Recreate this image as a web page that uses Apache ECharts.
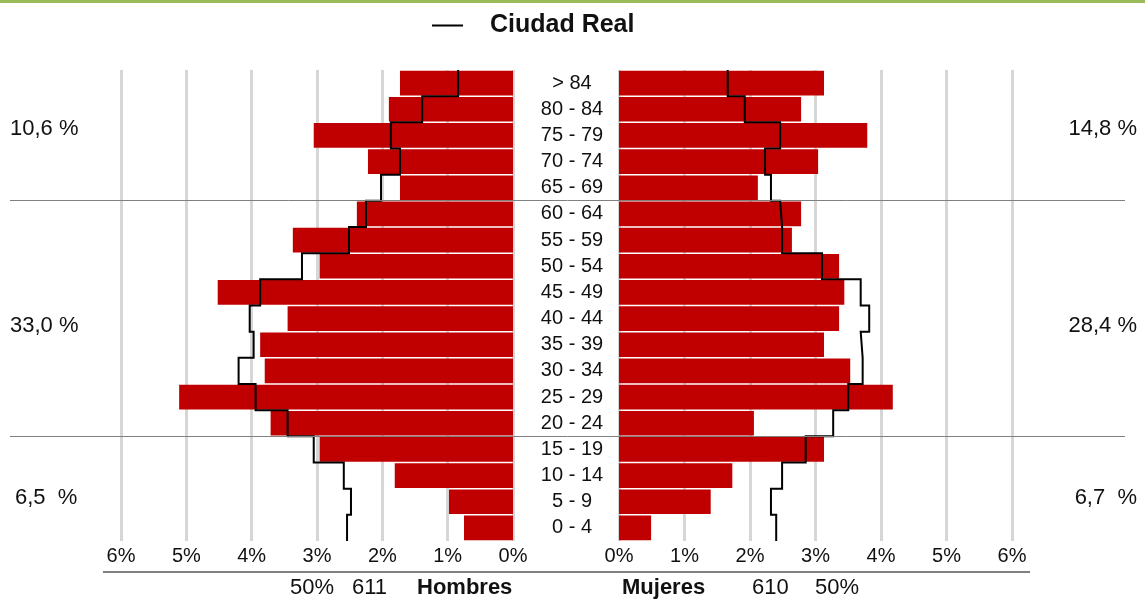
<!DOCTYPE html>
<html>
<head>
<meta charset="utf-8">
<script src="https://cdn.jsdelivr.net/npm/echarts@6/dist/echarts.min.js"></script>
<style>
html,body{margin:0;padding:0;background:#fff;}
#chart{width:1145px;height:599px;}
</style>
</head>
<body>
<div id="chart"></div>
<script>
// Age groups, bottom to top
const ages = ['0 - 4','5 - 9','10 - 14','15 - 19','20 - 24','25 - 29','30 - 34','35 - 39','40 - 44','45 - 49','50 - 54','55 - 59','60 - 64','65 - 69','70 - 74','75 - 79','80 - 84','> 84'];
// Percent of total population
const men      = [0.75,0.98,1.81,2.96,3.71,5.11,3.80,3.87,3.45,4.52,2.96,3.37,2.39,1.73,2.22,3.05,1.90,1.73];
const women    = [0.49,1.40,1.73,3.13,2.06,4.18,3.53,3.13,3.36,3.44,3.36,2.64,2.78,2.12,3.04,3.79,2.78,3.13];
// Reference profile: Ciudad Real
const menRef   = [2.54,2.48,2.59,3.05,3.45,3.94,4.20,3.97,4.03,3.87,3.23,2.51,2.25,2.02,1.73,1.87,1.39,0.84];
const womenRef = [2.40,2.32,2.49,2.85,3.27,3.50,3.72,3.69,3.82,3.69,3.10,2.49,2.46,2.32,2.23,2.46,1.92,1.66];
// Group summaries (top, middle, bottom)
const groupMen   = ['10,6 %','33,0 %','6,5  %'];
const groupWomen = ['14,8 %','28,4 %','6,7  %'];
const groupBounds = [4, 13]; // boundaries between groups (category index)
const totals = {menPct:'50%', men:'611', women:'610', womenPct:'50%'};

const FONT = "'Liberation Sans', Arial, sans-serif";
const RED = '#c00000';

function stepPoints(vals){
  const pts = [];
  vals.forEach((v,i)=>{ pts.push([v,i]); pts.push([v,i+1]); });
  return pts;
}

const chart = echarts.init(document.getElementById('chart'), null, {renderer:'canvas'});

const gridTop = 70, gridBottom = 599-541;
const splitLine = {show:true, lineStyle:{color:'#d6d6d6', width:3, type:'solid'}};
const xLabel = {show:true, color:'#111', fontSize:20, fontFamily:FONT, margin:5, formatter:(v)=>v+'%'};

const option = {
  animation:false,
  backgroundColor:'#fff',
  legend:{
    data:[{name:'Ciudad Real', icon:'rect'}],
    left:427, top:8,
    itemWidth:31, itemHeight:2,
    selectedMode:false,
    textStyle:{fontSize:25, fontWeight:'bold', color:'#111', fontFamily:FONT, padding:[0,0,0,22]}
  },
  grid:[
    {left:121, right:1145-513, top:gridTop, bottom:gridBottom},
    {left:619, right:1145-1012, top:gridTop, bottom:gridBottom}
  ],
  xAxis:[
    {gridIndex:0, type:'value', min:0, max:6, interval:1, inverse:true,
     axisLine:{show:false}, axisTick:{show:false}, axisLabel:xLabel, splitLine:splitLine},
    {gridIndex:1, type:'value', min:0, max:6, interval:1,
     axisLine:{show:false}, axisTick:{show:false}, axisLabel:xLabel, splitLine:splitLine}
  ],
  yAxis:[
    {gridIndex:0, type:'category', data:ages, axisLine:{show:false}, axisTick:{show:false}, axisLabel:{show:false}},
    {gridIndex:1, type:'category', data:ages, position:'left', axisLine:{show:false}, axisTick:{show:false},
     axisLabel:{show:true, align:'center', margin:47, fontSize:20, color:'#111', fontFamily:FONT}},
    {gridIndex:0, type:'value', min:0, max:ages.length, show:false},
    {gridIndex:1, type:'value', min:0, max:ages.length, show:false}
  ],
  series:[
    {name:'Hombres', type:'bar', xAxisIndex:0, yAxisIndex:0, data:men, barCategoryGap:'6%',
     itemStyle:{color:RED}, z:2},
    {name:'Mujeres', type:'bar', xAxisIndex:1, yAxisIndex:1, data:women, barCategoryGap:'6%',
     itemStyle:{color:RED}, z:2},
    {name:'Ciudad Real', type:'line', xAxisIndex:0, yAxisIndex:2, data:stepPoints(menRef),
     symbol:'none', lineStyle:{color:'#000', width:2, join:'miter'}, itemStyle:{color:'#000'}, z:5},
    {name:'Ciudad Real', type:'line', xAxisIndex:1, yAxisIndex:3, data:stepPoints(womenRef),
     symbol:'none', lineStyle:{color:'#000', width:2, join:'miter'}, itemStyle:{color:'#000'}, z:5}
  ]
};
chart.setOption(option);

// Decorations positioned from the axes
const yTopGrp = chart.convertToPixel({yAxisIndex:2}, ages.length);
const yB1 = chart.convertToPixel({yAxisIndex:2}, groupBounds[1]);
const yB0 = chart.convertToPixel({yAxisIndex:2}, groupBounds[0]);
const yBot = chart.convertToPixel({yAxisIndex:2}, 0);
const labelY = [yTopGrp + 59, (yB1+yB0)/2 + 7, yBot - 43];
const txt = (x,y,text,align,bold,size)=>({type:'text', x:x, y:y, silent:true,
  style:{text:text, fill:'#111', font:(bold?'bold ':'')+(size||22)+'px '+FONT, textAlign:align, textVerticalAlign:'middle'}});

const graphics = [
  {type:'rect', shape:{x:0,y:0,width:1145,height:3}, style:{fill:'#9bbb59'}, silent:true},
  {type:'line', shape:{x1:10,y1:Math.round(yB1)-0.5,x2:1125,y2:Math.round(yB1)-0.5}, style:{stroke:'#808080', lineWidth:1}, z:10, silent:true},
  {type:'line', shape:{x1:10,y1:Math.round(yB0)+0.5,x2:1125,y2:Math.round(yB0)+0.5}, style:{stroke:'#808080', lineWidth:1}, z:10, silent:true},
  {type:'line', shape:{x1:103,y1:572,x2:1030,y2:572}, style:{stroke:'#808080', lineWidth:2}, silent:true},
  txt(10, labelY[0], groupMen[0], 'left'),
  txt(10, labelY[1], groupMen[1], 'left'),
  txt(15, labelY[2], groupMen[2], 'left'),
  txt(1137, labelY[0], groupWomen[0], 'right'),
  txt(1137, labelY[1], groupWomen[1], 'right'),
  txt(1137, labelY[2], groupWomen[2], 'right'),
  txt(290, 588, totals.menPct, 'left'),
  txt(352, 588, totals.men, 'left'),
  txt(417, 588, 'Hombres', 'left', true),
  txt(622, 588, 'Mujeres', 'left', true),
  txt(752, 588, totals.women, 'left'),
  txt(815, 588, totals.womenPct, 'left')
];
chart.setOption({graphic:graphics});
</script>
</body>
</html>
